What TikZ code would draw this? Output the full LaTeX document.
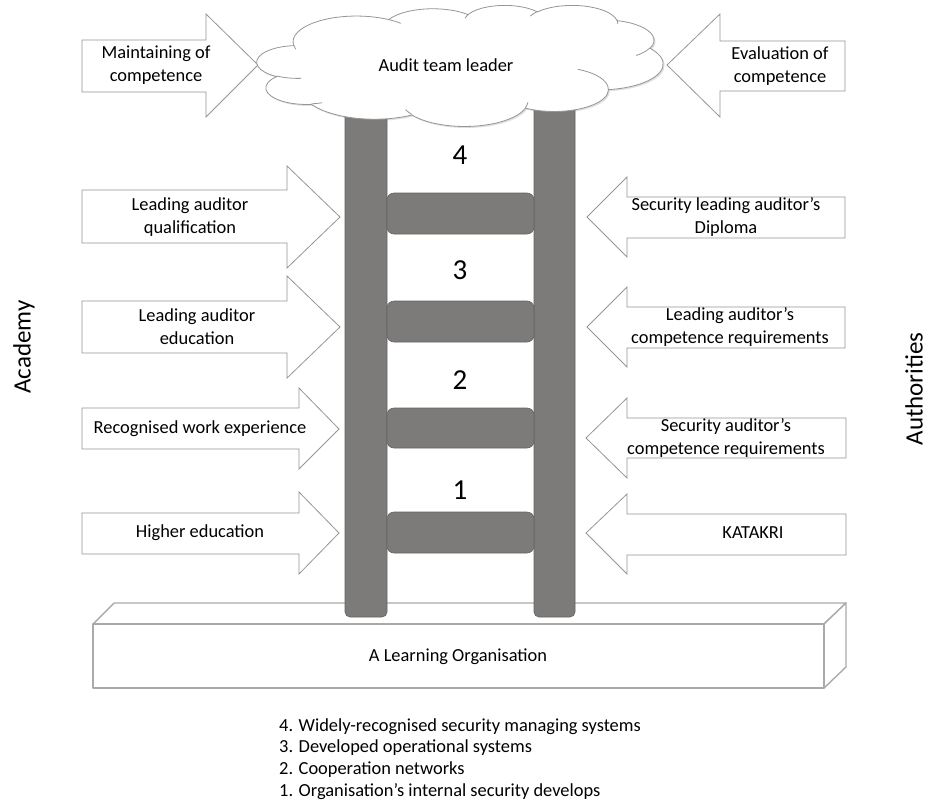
\documentclass[tikz,border=0pt]{standalone}
\usepackage{fontspec}
\setmainfont{Carlito}
\usetikzlibrary{shadows}
\definecolor{railgray}{RGB}{124,123,121}
\definecolor{raildark}{RGB}{100,100,100}
\definecolor{linegray}{RGB}{170,170,170}
\definecolor{arrgray}{RGB}{150,150,150}
\tikzset{
  arrowshape/.style={draw=arrgray, fill=white, line width=0.8pt, line join=miter},
  boxface/.style={draw=linegray, fill=white, line width=1.4pt, line join=round},
  railbar/.style={draw=raildark, fill=railgray, line width=0.6pt, rounded corners=5pt},
  rungbar/.style={draw=raildark, fill=railgray, line width=0.6pt, rounded corners=7pt},
  lbl/.style={font=\fontsize{18.4}{23}\selectfont, align=center, inner sep=0pt},
  numlbl/.style={font=\fontsize{29}{32}\selectfont, inner sep=0pt},
  sidelbl/.style={font=\fontsize{25}{28}\selectfont, rotate=90, inner sep=0pt},
  listlbl/.style={font=\fontsize{18.4}{22}\selectfont, anchor=west, inner sep=0pt},
  cloudline/.style={draw=arrgray, line width=0.8pt},
  cloudfill/.style={cloudline, fill=white,
    drop shadow={opacity=0.25, shadow xshift=1.5pt, shadow yshift=-1.5pt}},
  cldarc/.style n args={4}{x radius=#1, y radius=#2,
    start angle={atan2(#1*sin(#3),#2*cos(#3))},
    delta angle={mod(atan2(#1*sin(#3+#4),#2*cos(#3+#4))-atan2(#1*sin(#3),#2*cos(#3))+720,360)}}
}
\begin{document}
\begin{tikzpicture}[x=1pt,y=-1pt]
\useasboundingbox[fill=white] (0,0) rectangle (928,803);

% base box
\draw[boxface] (93,624) -- (114,603) -- (846,603) -- (824,624) -- cycle;
\draw[boxface] (824,624) -- (846,603) -- (846,667) -- (824,688) -- cycle;
\draw[boxface] (93,624) rectangle (824,688);
\node[lbl] (base) at (458,657) {A Learning Organisation};

% rails
\draw[railbar] (345,90) rectangle (387,617);
\draw[railbar] (534,90) rectangle (575,617);
% rungs
\draw[rungbar] (387,193) rectangle (534,234);
\draw[rungbar] (387,301) rectangle (534,342);
\draw[rungbar] (387,408) rectangle (534,448);
\draw[rungbar] (387,512) rectangle (534,553);

\node[numlbl] (n4) at (460,155) {4};
\node[numlbl] (n3) at (460,270) {3};
\node[numlbl] (n2) at (460,380) {2};
\node[numlbl] (n1) at (460,490) {1};

% left arrows (pointing right)
\draw[arrowshape] (82,40) -- (206,40) -- (206,14) -- (258,65) -- (206,117) -- (206,92) -- (82,92) -- cycle;
\draw[arrowshape] (82,190) -- (287,190) -- (287,166) -- (340,217) -- (287,268) -- (287,243) -- (82,243) -- cycle;
\draw[arrowshape] (82,301) -- (287,301) -- (287,276) -- (340,327) -- (287,378) -- (287,353) -- (82,353) -- cycle;
\draw[arrowshape] (82,408) -- (299,408) -- (299,388) -- (339,429) -- (299,469) -- (299,449) -- (82,449) -- cycle;
\draw[arrowshape] (82,513) -- (299,513) -- (299,492) -- (339,533) -- (299,574) -- (299,554) -- (82,554) -- cycle;

% right arrows (pointing left)
\draw[arrowshape] (845,41) -- (720,41) -- (720,14) -- (667,65) -- (720,117) -- (720,91) -- (845,91) -- cycle;
\draw[arrowshape] (845,197) -- (627,197) -- (627,177) -- (587,217) -- (627,257) -- (627,238) -- (845,238) -- cycle;
\draw[arrowshape] (845,307) -- (627,307) -- (627,287) -- (587,327) -- (627,367) -- (627,348) -- (845,348) -- cycle;
\draw[arrowshape] (846,418) -- (627,418) -- (627,398) -- (586,438) -- (627,478) -- (627,458) -- (846,458) -- cycle;
\draw[arrowshape] (846,514) -- (627,514) -- (627,494) -- (586,533) -- (627,574) -- (627,555) -- (846,555) -- cycle;

% cloud (drawn directly)
\begin{scope}[shift={(257,5)}, x=0.093981pt, y=-0.028009pt]
\path[cloudfill] (390,1437)
  arc[cldarc={675.3}{919.0}{-190.4875}{123.7805}]
  arc[cldarc={533.3}{726.7}{-144.1024}{89.9452}]
  arc[cldarc={436.5}{594.5}{-145.8079}{99.7230}]
  arc[cldarc={485.7}{659.5}{-130.9861}{117.2417}]
  arc[cldarc={533.3}{727.3}{-78.7089}{109.0269}]
  arc[cldarc={677.5}{922.0}{-46.2673}{130.2690}]
  arc[cldarc={578.5}{786.7}{0.6250}{114.0333}]
  arc[cldarc={675.2}{921.5}{22.4516}{115.1726}]
  arc[cldarc={772.0}{1054.3}{66.2426}{75.7110}]
  arc[cldarc={436.0}{591.8}{-274.9421}{146.7356}]
  arc[cldarc={434.5}{594.5}{-246.8285}{152.5189}]
  -- cycle;
\path[cloudline]
  (469.3,2617.7) arc[cldarc={434.5}{594.5}{86.7420}{26.4295}]
  (692.8,3489.9) arc[cldarc={436.0}{591.8}{73.6105}{11.4475}]
  (1647.8,3909.0) arc[cldarc={675.2}{921.5}{137.6242}{14.0811}]
  (2882.7,3475.1) arc[cldarc={675.2}{921.5}{6.4533}{15.9984}]
  (3412.9,2295.4) arc[cldarc={578.5}{786.7}{-70.2924}{70.9174}]
  (4179.8,1535.4) arc[cldarc={533.3}{727.3}{30.3180}{27.7515}]
  (3832.4,542.6) arc[cldarc={485.7}{659.5}{-13.7443}{14.8589}]
  (2907.8,395.2) arc[cldarc={485.7}{659.5}{-149.1815}{18.1954}]
  (2214.1,472.0) arc[cldarc={436.5}{594.5}{-163.4943}{17.6864}]
  (1400.0,519.2) arc[cldarc={675.3}{919.0}{-66.7070}{12.3194}]
  (412.7,1578.9) arc[cldarc={675.3}{919.0}{157.6544}{11.8582}];
\end{scope}
\node[lbl] (leader) at (446,65) {Audit team leader};

% arrow labels
\node[lbl] (maint) at (156,65) {Maintaining of\\competence};
\node[lbl] (qual) at (190,217) {Leading auditor\\qualification};
\node[lbl] (edu) at (197,327) {Leading auditor\\education};
\node[lbl] (work) at (200,429) {Recognised work experience};
\node[lbl] (higher) at (200,533) {Higher education};

\node[lbl] (eval) at (780,66) {Evaluation of\\competence};
\node[lbl] (diploma) at (726,217) {Security leading auditor’s\\Diploma};
\node[lbl] (lreq) at (730,327) {Leading auditor’s\\competence requirements};
\node[lbl] (sreq) at (726,438) {Security auditor’s\\competence requirements};
\node[lbl] (katakri) at (753,533) {KATAKRI};

% side labels
\node[sidelbl] (academy) at (24,347) {Academy};
\node[sidelbl] (auth) at (914,389) {Authorities};

% list
\node[listlbl] (l4) at (279,727) {4. Widely-recognised security managing systems};
\node[listlbl] (l3) at (279,748) {3. Developed operational systems};
\node[listlbl] (l2) at (279,770) {2. Cooperation networks};
\node[listlbl] (l1) at (279,792) {1. Organisation’s internal security develops};
\end{tikzpicture}
\end{document}
